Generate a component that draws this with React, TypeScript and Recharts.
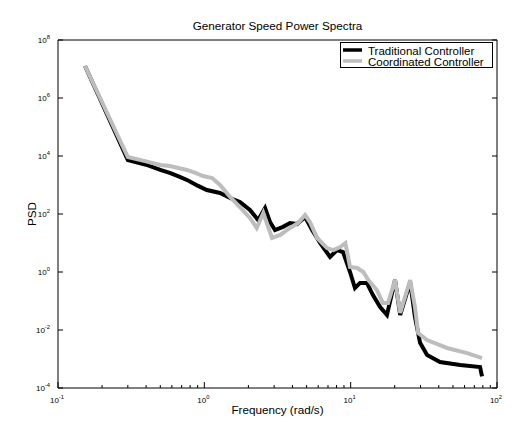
import { Customized, Legend, Line, LineChart, XAxis, YAxis } from 'recharts'

// frequency (rad/s) and PSD
const FREQ_TRAD = [
  0.153, 0.3, 0.4, 0.5, 0.58, 0.68, 0.78, 0.9, 1.04, 1.28, 1.5, 1.75, 2.05,
  2.33, 2.6, 2.81, 3.04, 3.45, 3.85, 4.3, 4.88, 5.45, 6.18, 7.23, 8.07, 8.87,
  9.9, 10.7, 11.6, 12.9, 14.2, 15.9, 17.7, 20.1, 21.8, 25.5, 27.5, 29.8, 33.3,
  40.8, 56, 76.6, 79,
]
const PSD_TRAD = [
  1.27e7, 7.3e3, 5.0e3, 3.3e3, 2.6e3, 1.9e3, 1.4e3, 950, 673, 530, 356, 259,
  137, 62, 161, 53, 28, 36, 49, 45, 79, 28, 10, 3.3, 5.7, 4.9, 1.0, 0.28, 0.42,
  0.42, 0.16, 0.062, 0.033, 0.53, 0.033, 0.45, 0.028, 0.0036, 0.00137, 0.00079,
  0.00062, 0.00053, 0.00025,
]
const FREQ_COORD = [
  0.153, 0.3, 0.4, 0.5, 0.58, 0.76, 0.87, 0.98, 1.13, 1.28, 1.5, 1.75, 2.05,
  2.28, 2.53, 2.9, 3.3, 3.85, 4.38, 4.88, 5.27, 5.9, 6.9, 7.6, 8.5, 9.2, 9.9,
  11.1, 12.2, 13.2, 15.1, 16.6, 18.0, 20.1, 21.8, 25.5, 27.5, 28.9, 33.3, 45.6,
  62.5, 79,
]
const PSD_COORD = [
  1.27e7, 9.2e3, 6.5e3, 4.9e3, 4.5e3, 3.3e3, 2.6e3, 2.04e3, 1.74e3, 1000, 385,
  174, 73, 33, 108, 14.9, 18.9, 33, 49, 92, 53, 14.9, 6.7, 5.7, 7.3, 10, 1.49,
  1.37, 1.0, 0.53, 0.24, 0.085, 0.085, 0.53, 0.0385, 0.53, 0.062, 0.0079,
  0.0045, 0.0024, 0.0016, 0.00108,
]

const SERIES_NAMES = ['Traditional Controller', 'Coordinated Controller']
const SERIES_COLORS = ['#000000', '#bdbdbd']

const X_TICKS = [
  0.1, 0.2, 0.3, 0.4, 0.5, 0.6, 0.7, 0.8, 0.9, 1, 2, 3, 4, 5, 6, 7, 8, 9, 10,
  20, 30, 40, 50, 60, 70, 80, 90, 100,
]
const Y_TICKS = [1e-4, 1e-2, 1, 1e2, 1e4, 1e6, 1e8]

const tradData = FREQ_TRAD.map((f, i) => ({ freq: f, psd: PSD_TRAD[i] }))
const coordData = FREQ_COORD.map((f, i) => ({ freq: f, psd: PSD_COORD[i] }))

const FONT = '"Liberation Sans", Arial, Helvetica, sans-serif'

const expOf = (v: number) => Math.round(Math.log10(v))
const isMajor = (v: number) => Math.abs(Math.log10(v) - expOf(v)) < 1e-9

function PowLabel({ x, y, v, anchor }: any) {
  return (
    <text x={x} y={y} textAnchor={anchor} fontSize={8} fill='#000' fontFamily={FONT}>
      10
      <tspan dy={-4} fontSize={5.8}>
        {expOf(v)}
      </tspan>
    </text>
  )
}

function BottomTick({ x, y, payload }: any) {
  const major = isMajor(payload.value)
  return (
    <g>
      <line x1={x} x2={x} y1={y} y2={y - (major ? 6 : 3)} stroke='#000' />
      {major && <PowLabel x={x - 1} y={y + 15} v={payload.value} anchor='middle' />}
    </g>
  )
}

function TopTick({ x, y, payload }: any) {
  const major = isMajor(payload.value)
  return <line x1={x} x2={x} y1={y} y2={y + (major ? 6 : 3)} stroke='#000' />
}

function LeftTick({ x, y, payload }: any) {
  return (
    <g>
      <line x1={x} x2={x + 5} y1={y} y2={y} stroke='#000' />
      <PowLabel x={x - 8} y={y + 3} v={payload.value} anchor='end' />
    </g>
  )
}

function RightTick({ x, y }: any) {
  return <line x1={x} x2={x - 5} y1={y} y2={y} stroke='#000' />
}

// figure frame, title and axis titles drawn into the chart svg
function Decorations() {
  return (
    <g>
      <path d='M6 430 V6 H514 M6 427.5 H514' fill='none' stroke='#000' strokeWidth={2.5} />
      <text x={277.5} y={30} textAnchor='middle' fontSize={11.7} fontFamily={FONT}>
        Generator Speed Power Spectra
      </text>
      <text x={277.5} y={414} textAnchor='middle' fontSize={11.7} fontFamily={FONT}>
        Frequency (rad/s)
      </text>
      <text
        transform='translate(36,214) rotate(-90)'
        textAnchor='middle'
        fontSize={11.7}
        fontFamily={FONT}
      >
        PSD
      </text>
    </g>
  )
}

function LegendBox() {
  return (
    <svg width={153} height={26} style={{ display: 'block' }}>
      <rect x={0.5} y={0.5} width={152} height={25} fill='#fff' stroke='#000' />
      {SERIES_NAMES.map((name, i) => (
        <g key={name}>
          <line
            x1={3}
            x2={22}
            y1={8 + i * 11}
            y2={8 + i * 11}
            stroke={SERIES_COLORS[i]}
            strokeWidth={3.5}
          />
          <text x={28} y={12.5 + i * 11} fontSize={11.5} fontFamily={FONT} fill='#000'>
            {name}
          </text>
        </g>
      ))}
    </svg>
  )
}

export default function App() {
  return (
    <div style={{ margin: -8, width: 514, height: 430, background: '#fff', fontFamily: FONT }}>
      <LineChart
        width={514}
        height={430}
        margin={{ top: 39, right: 16, bottom: 41, left: 57 }}
      >
        <XAxis
          xAxisId='b'
          dataKey='freq'
          type='number'
          scale='log'
          domain={[0.1, 100]}
          allowDataOverflow
          ticks={X_TICKS}
          interval={0}
          height={1}
          tickSize={0}
          tickMargin={0}
          tickLine={false}
          tick={<BottomTick />}
          axisLine={{ stroke: '#000' }}
        />
        <XAxis
          xAxisId='t'
          orientation='top'
          type='number'
          scale='log'
          domain={[0.1, 100]}
          allowDataOverflow
          ticks={X_TICKS}
          interval={0}
          height={1}
          tickSize={0}
          tickMargin={0}
          tickLine={false}
          tick={<TopTick />}
          axisLine={{ stroke: '#000' }}
        />
        <YAxis
          yAxisId='l'
          type='number'
          scale='log'
          domain={[1e-4, 1e8]}
          allowDataOverflow
          ticks={Y_TICKS}
          interval={0}
          width={1}
          tickSize={0}
          tickMargin={0}
          tickLine={false}
          tick={<LeftTick />}
          axisLine={{ stroke: '#000' }}
        />
        <YAxis
          yAxisId='r'
          orientation='right'
          type='number'
          scale='log'
          domain={[1e-4, 1e8]}
          allowDataOverflow
          ticks={Y_TICKS}
          interval={0}
          width={1}
          tickSize={0}
          tickMargin={0}
          tickLine={false}
          tick={<RightTick />}
          axisLine={{ stroke: '#000' }}
        />
        <Line
          xAxisId='b'
          yAxisId='l'
          data={tradData}
          dataKey='psd'
          name={SERIES_NAMES[0]}
          stroke={SERIES_COLORS[0]}
          strokeWidth={4}
          dot={false}
          type='linear'
          isAnimationActive={false}
        />
        <Line
          xAxisId='b'
          yAxisId='l'
          data={coordData}
          dataKey='psd'
          name={SERIES_NAMES[1]}
          stroke={SERIES_COLORS[1]}
          strokeWidth={4}
          dot={false}
          type='linear'
          isAnimationActive={false}
        />
        <Customized component={<Decorations />} />
        <Legend
          layout='vertical'
          align='center'
          verticalAlign='middle'
          content={<LegendBox />}
          wrapperStyle={{ left: 340, top: 42, width: 153, height: 26 }}
        />
      </LineChart>
    </div>
  )
}
